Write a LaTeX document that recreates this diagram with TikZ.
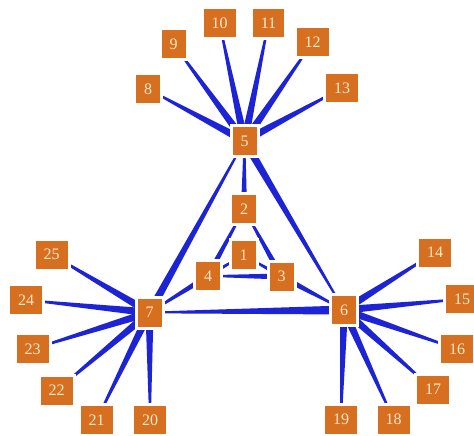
\documentclass[tikz,border=0pt]{standalone}
\usepackage{fontspec}
\setmainfont{Liberation Serif}
\usetikzlibrary{calc,backgrounds}
\definecolor{boxorange}{RGB}{214,112,32}
\definecolor{edgeblue}{RGB}{28,36,214}
\definecolor{labelcream}{RGB}{250,232,200}
\tikzset{
  vbox/.style={rectangle, fill=boxorange, draw=white, line width=3pt, text=labelcream, font=\fontsize{16}{16}\selectfont, minimum height=31pt, inner xsep=9.5pt, inner ysep=2pt},
  spoke/.style={fill=edgeblue},
}

\begin{document}
\begin{tikzpicture}[x=1pt, y=-1pt]
  % 1. frame
  \useasboundingbox (0,0) rectangle (474,436);

  % 2. hubs and inner triangle
  \node[vbox] (n5) at (244.5,141) {5};
  \node[vbox] (n6) at (344,310) {6};
  \node[vbox] (n7) at (149.5,312.5) {7};
  \node[vbox] (n2) at (244,209) {2};
  \node[vbox] (n1) at (243.5,255) {1};
  \node[vbox] (n4) at (208,276) {4};
  \node[vbox] (n3) at (281.5,276.5) {3};

  % 3. leaves
  \node[vbox] (n8) at (148,89) {8};
  \node[vbox] (n9) at (173.5,44) {9};
  \node[vbox] (n10) at (219.5,23) {10};
  \node[vbox] (n11) at (268.5,23) {11};
  \node[vbox] (n12) at (312.5,42.5) {12};
  \node[vbox] (n13) at (342,88) {13};
  \node[vbox] (n14) at (435,252.5) {14};
  \node[vbox] (n15) at (462,299) {15};
  \node[vbox] (n16) at (457,349) {16};
  \node[vbox] (n17) at (433,389.5) {17};
  \node[vbox] (n18) at (393.5,419.5) {18};
  \node[vbox] (n19) at (341,419.5) {19};
  \node[vbox] (n20) at (150,420) {20};
  \node[vbox] (n21) at (96.5,420) {21};
  \node[vbox] (n22) at (56.5,390.5) {22};
  \node[vbox] (n23) at (32.5,349) {23};
  \node[vbox] (n24) at (26,300) {24};
  \node[vbox] (n25) at (51.5,254.5) {25};

  % 4. tapered edges: thin end -> thick end
  \begin{scope}[on background layer]
    \fill[white] (0,0) rectangle (474,436);
    \foreach \a/\b/\w in {n8/n5/4pt, n9/n5/4pt, n10/n5/4pt, n11/n5/4pt, n12/n5/4pt, n13/n5/4pt,
                          n14/n6/4pt, n15/n6/4pt, n16/n6/4pt, n17/n6/4pt, n18/n6/4pt, n19/n6/4pt,
                          n20/n7/4pt, n21/n7/4pt, n22/n7/4pt, n23/n7/4pt, n24/n7/4pt, n25/n7/4pt,
                          n5/n7/4pt, n6/n5/4pt, n7/n6/4.5pt, n5/n2/3pt, n2/n4/3pt, n2/n3/3pt,
                          n1/n4/2pt, n1/n3/2pt, n4/n3/3pt, n7/n4/3pt, n6/n3/3pt}
      \fill[spoke] ($(\a.center)!0.8pt!90:(\b.center)$) -- ($(\b.center)!\w!-90:(\a.center)$)
        -- ($(\b.center)!\w!90:(\a.center)$) -- ($(\a.center)!0.8pt!-90:(\b.center)$) -- cycle;
  \end{scope}
\end{tikzpicture}
\end{document}
